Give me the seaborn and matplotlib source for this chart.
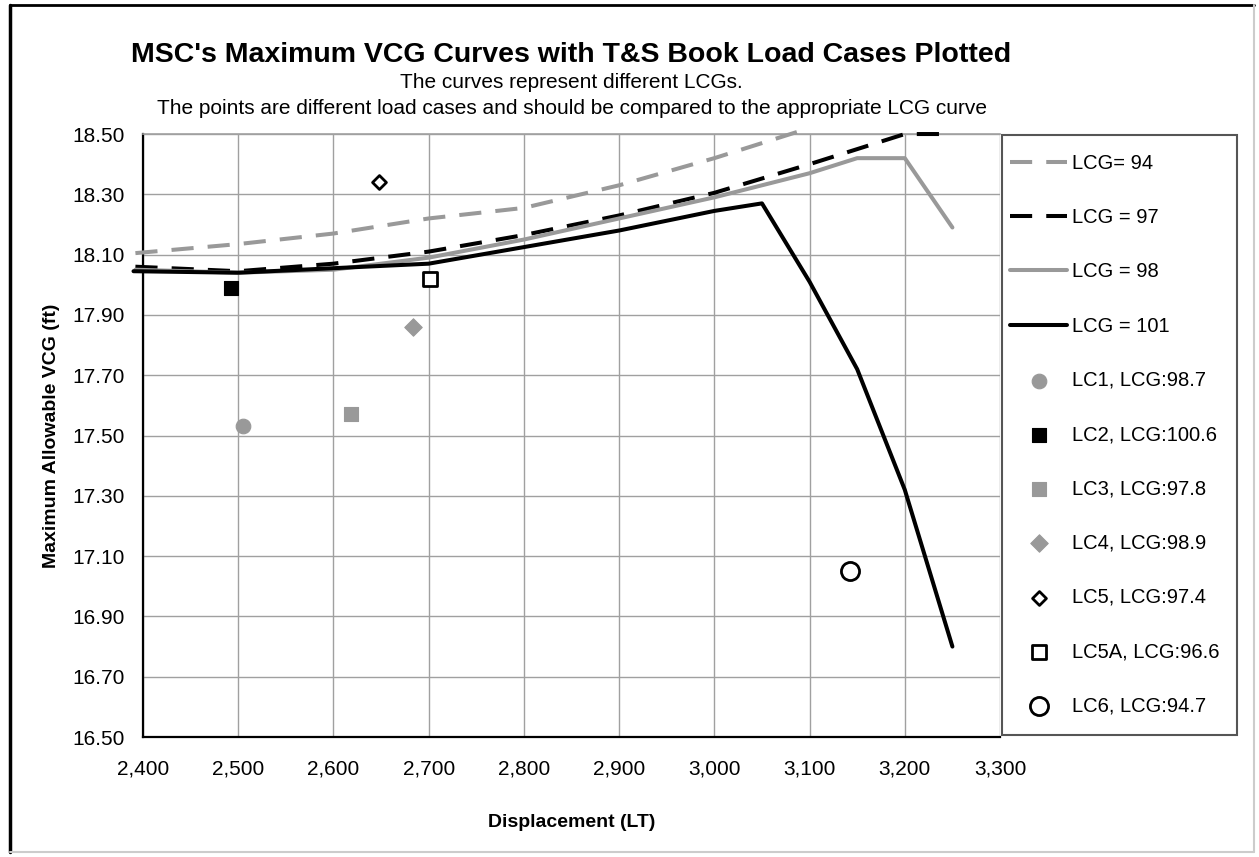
import matplotlib
matplotlib.use("Agg")
import matplotlib.pyplot as plt
import seaborn as sns
import numpy as np
from matplotlib.ticker import FuncFormatter
from matplotlib.lines import Line2D
from matplotlib.patches import Rectangle

# curves: max allowable VCG for each LCG
disp_94 = [2392, 2500, 2600, 2700, 2800, 2900, 3000, 3100]
vcg_94 = [18.105, 18.135, 18.17, 18.22, 18.255, 18.33, 18.42, 18.52]

disp_97 = [2392, 2500, 2600, 2700, 2800, 2900, 3000, 3100, 3200, 3250]
vcg_97 = [18.06, 18.045, 18.07, 18.11, 18.165, 18.23, 18.305, 18.40, 18.50, 18.50]

disp_98 = [2392, 2500, 2600, 2700, 2800, 2900, 3000, 3100, 3150, 3200, 3250]
vcg_98 = [18.05, 18.04, 18.05, 18.09, 18.15, 18.22, 18.29, 18.37, 18.42, 18.42, 18.19]

disp_101 = [2390, 2500, 2600, 2700, 2800, 2900, 3000, 3050, 3100, 3150, 3200, 3250]
vcg_101 = [18.045, 18.04, 18.055, 18.07, 18.125, 18.18, 18.245, 18.27, 18.01, 17.72, 17.32, 16.80]

# load cases
lc_names = ["LC1, LCG:98.7", "LC2, LCG:100.6", "LC3, LCG:97.8", "LC4, LCG:98.9",
            "LC5, LCG:97.4", "LC5A, LCG:96.6", "LC6, LCG:94.7"]
lc_disp = [2505, 2492, 2618, 2683, 2648, 2701, 3142]
lc_vcg = [17.53, 17.99, 17.57, 17.86, 18.34, 18.02, 17.05]

GREY = "#999999"

sns.set_style("whitegrid")
plt.rcParams['font.family'] = ['Liberation Sans', 'DejaVu Sans']
plt.rcParams['text.color'] = 'black'
plt.rcParams['axes.labelcolor'] = 'black'

fig = plt.figure(figsize=(12.59, 8.57), dpi=100)
ax = fig.add_axes([0.1136, 0.14, 0.6807, 0.7036])

dash = (0, (5.5, 3.5))
sns.lineplot(x=disp_94, y=vcg_94, ax=ax, color=GREY, lw=2.9, linestyle=dash,
             label="LCG= 94", clip_on=False, zorder=3)
sns.lineplot(x=disp_97, y=vcg_97, ax=ax, color="black", lw=2.9, linestyle=dash,
             label="LCG = 97", clip_on=False, zorder=3)
sns.lineplot(x=disp_98, y=vcg_98, ax=ax, color=GREY, lw=2.9,
             label="LCG = 98", clip_on=False, zorder=3)
sns.lineplot(x=disp_101, y=vcg_101, ax=ax, color="black", lw=2.9,
             label="LCG = 101", clip_on=False, zorder=3)

styles = [
    dict(marker="o", s=110, color=GREY, edgecolor=GREY),
    dict(marker="s", s=100, color="black", edgecolor="black"),
    dict(marker="s", s=100, color=GREY, edgecolor=GREY),
    dict(marker="D", s=80, color=GREY, edgecolor=GREY),
    dict(marker="D", s=50, color="white", edgecolor="black", linewidth=2),
    dict(marker="s", s=100, color="white", edgecolor="black", linewidth=2),
    dict(marker="o", s=170, color="white", edgecolor="black", linewidth=2),
]
for name, x, y, st in zip(lc_names, lc_disp, lc_vcg, styles):
    sns.scatterplot(x=[x], y=[y], ax=ax, label=name, zorder=5, **st)

ax.set_xlim(2400, 3300)
ax.set_ylim(16.5, 18.5)
ax.set_xticks(np.arange(2400, 3301, 100))
ax.set_yticks(np.arange(16.5, 18.51, 0.2))
ax.xaxis.set_major_formatter(FuncFormatter(lambda v, p: f"{int(round(v)):,}"))
ax.yaxis.set_major_formatter(FuncFormatter(lambda v, p: f"{v:.2f}"))
ax.tick_params(axis="both", length=0, labelsize=15, colors="black")
ax.tick_params(axis="x", pad=16)
ax.tick_params(axis="y", pad=13)
ax.grid(True, color="#a0a0a0", lw=1.0)

for side in ["left", "bottom"]:
    ax.spines[side].set_color("black")
    ax.spines[side].set_linewidth(1.6)
ax.spines["top"].set_color("#a0a0a0")
ax.spines["top"].set_linewidth(1.2)
ax.spines["right"].set_visible(False)

ax.set_xlabel("Displacement (LT)", fontsize=14, fontweight="bold")
ax.set_ylabel("Maximum Allowable VCG (ft)", fontsize=14, fontweight="bold")
ax.xaxis.set_label_coords(0.5, -0.128)
ax.yaxis.set_label_coords(-0.097, 0.5)

leg = ax.legend(loc="upper left", bbox_to_anchor=(1010 / 1259, 1 - 154 / 857),
                bbox_transform=fig.transFigure, borderaxespad=0, borderpad=0,
                fontsize=14.5, frameon=False, handlelength=2.85,
                handletextpad=0.25, labelspacing=1.75)

# legend box
fig.add_artist(Rectangle((1002 / 1259, 1 - 735 / 857), 235 / 1259, 600 / 857,
                         transform=fig.transFigure, fill=False,
                         edgecolor="#555555", lw=1.5))

cx = (0.1136 + 0.7943) / 2
fig.text(cx, 1 - 55 / 857, "MSC's Maximum VCG Curves with T&S Book Load Cases Plotted",
         ha="center", va="center", fontsize=20.5, fontweight="bold")
fig.text(cx, 1 - 83 / 857, "The curves represent different LCGs.",
         ha="center", va="center", fontsize=15)
fig.text(cx, 1 - 109 / 857,
         "The points are different load cases and should be compared to the appropriate LCG curve",
         ha="center", va="center", fontsize=15)

# outer chart frame
fig.add_artist(Line2D([0.008, 0.008], [0.006, 0.994], color="black", lw=2.5, transform=fig.transFigure))
fig.add_artist(Line2D([0.008, 0.996], [0.994, 0.994], color="black", lw=2.0, transform=fig.transFigure))
fig.add_artist(Line2D([0.996, 0.996], [0.006, 0.994], color="#cccccc", lw=1.5, transform=fig.transFigure))
fig.add_artist(Line2D([0.008, 0.996], [0.006, 0.006], color="#cccccc", lw=1.5, transform=fig.transFigure))

fig.savefig("out.png", dpi=100)
